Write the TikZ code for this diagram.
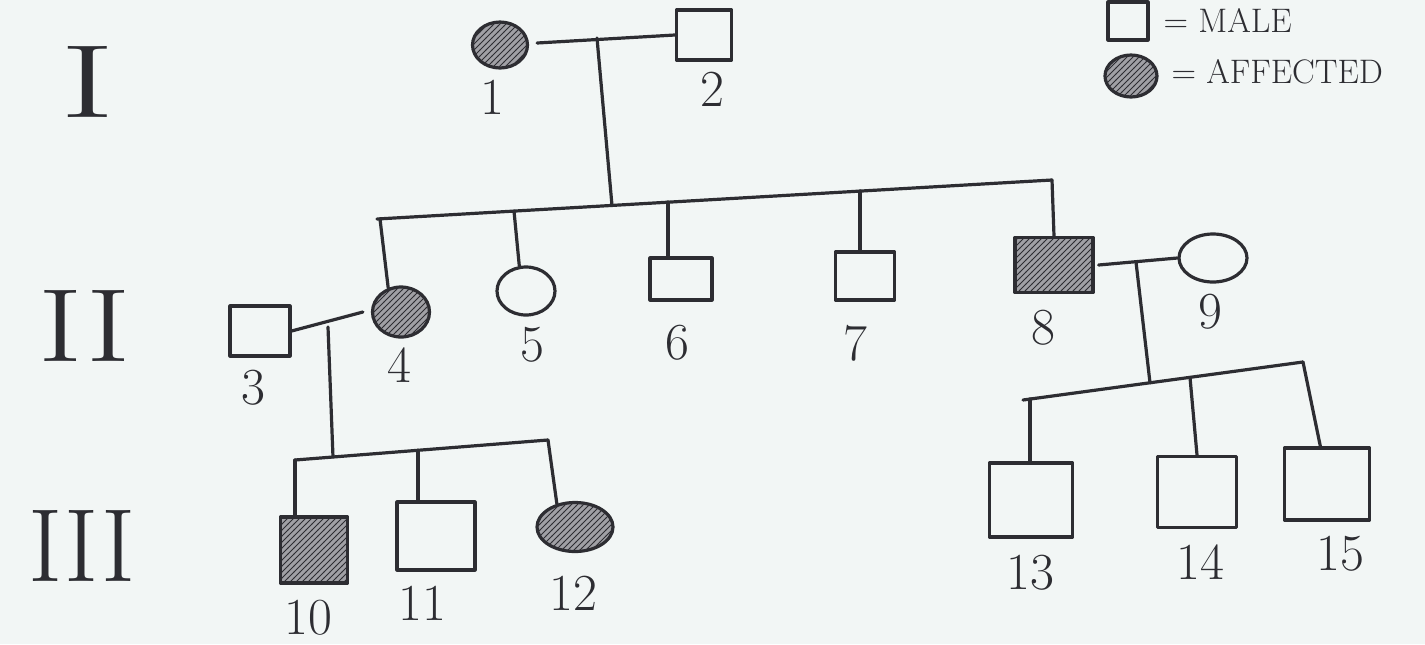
\documentclass[tikz,border=0pt]{standalone}
\usepackage{fontspec}
\usetikzlibrary{shapes.geometric,patterns,calc}
\definecolor{paper}{RGB}{242,246,245}
\definecolor{ink}{RGB}{45,45,50}
\definecolor{hatchbg}{RGB}{160,160,165}
\begin{document}
\begin{tikzpicture}[x=0.5pt,y=-0.5pt,
  line width=1.6pt, draw=ink, line cap=round, line join=round,
  male/.style={draw=ink, rectangle, inner sep=0pt, minimum width=#1},
  female/.style={draw=ink, ellipse, inner sep=0pt, minimum width=#1},
  affected/.style={fill=hatchbg, postaction={pattern=north east lines, pattern color=ink}},
  num/.style={text=ink, font=\fontsize{26}{28}\selectfont, inner sep=0pt},
  gen/.style={text=ink, font=\fontsize{52}{56}\selectfont, inner sep=0pt},
  legtext/.style={text=ink, font=\fontsize{17}{20}\selectfont, inner sep=0pt, anchor=west},
  conn/.style={draw=ink, line width=1.6pt}
]
\fill[paper] (0,0) rectangle (1425,644);
\useasboundingbox (0,0) rectangle (1425,644);

% generation labels
\node[gen, xscale=1.6] (g1) at (88,82) {I};
\node[gen, xscale=1.3] (g2) at (85,326) {II};
\node[gen] (g3) at (82,546) {III};

% legend
\node[male=20pt, minimum height=19pt] (lm) at (1128,21) {};
\node[legtext] (lmt) at (1162,20) {= MALE};
\node[female=26pt, minimum height=21pt, affected] (la) at (1131,76) {};
\node[legtext] (lat) at (1170,72) {= AFFECTED};

% generation I
\node[female=27.5pt, minimum height=23pt, affected] (n1) at (500,45) {};
\node[male=27.5pt, minimum height=25pt] (n2) at (704,35) {};
\node[num] (l1) at (492,97) {1};
\node[num] (l2) at (712,89) {2};

% generation II
\node[male=30pt, minimum height=25pt] (n3) at (260,331) {};
\node[female=28.5pt, minimum height=25pt, affected] (n4) at (401,312) {};
\node[female=29pt, minimum height=24pt] (n5) at (526,291) {};
\node[male=31pt, minimum height=21pt] (n6) at (681,279) {};
\node[male=29.5pt, minimum height=24pt] (n7) at (865,276) {};
\node[male=39pt, minimum height=27.5pt, affected] (n8) at (1054,265) {};
\node[female=34pt, minimum height=24pt] (n9) at (1213,258) {};
\node[num] (l3) at (253,388) {3};
\node[num] (l4) at (399,365) {4};
\node[num] (l5) at (532,345) {5};
\node[num] (l6) at (677,343) {6};
\node[num] (l7) at (855,343) {7};
\node[num] (l8) at (1043,328) {8};
\node[num] (l9) at (1210,312) {9};

% generation III
\node[male=33.5pt, minimum height=33pt, affected] (n10) at (314,550) {};
\node[male=39pt, minimum height=34pt] (n11) at (436,536) {};
\node[female=38pt, minimum height=24.5pt, affected] (n12) at (575,527) {};
\node[male=41.5pt, minimum height=37pt] (n13) at (1031,500) {};
\node[male=39.5pt, minimum height=35.5pt] (n14) at (1197,492) {};
\node[male=42.5pt, minimum height=36pt] (n15) at (1327,484) {};
\node[num] (l10) at (308,618) {10};
\node[num] (l11) at (422,603) {11};
\node[num] (l12) at (573,593) {12};
\node[num] (l13) at (1030,573) {13};
\node[num] (l14) at (1200,562) {14};
\node[num] (l15) at (1340,554) {15};

% coordinates on marriage and sibship lines
\coordinate (m12) at (597,38);
\coordinate (s2L) at (377,219);
\coordinate (s2R) at (1052,180);
\coordinate (c1) at (612,205.5);
\coordinate (c4) at (380,219);
\coordinate (c5) at (514,211);
\coordinate (c6) at (668,202);
\coordinate (c7) at (860,191);
\coordinate (m34) at (328,327);
\coordinate (s3L) at (295,460);
\coordinate (s3R) at (548,440);
\coordinate (c34) at (333,457);
\coordinate (c11) at (418,450.3);
\coordinate (m89) at (1136,262);
\coordinate (s3rL) at (1023,400);
\coordinate (s3rR) at (1303,362);
\coordinate (c89) at (1150,382.8);
\coordinate (c13) at (1030,399);
\coordinate (c14) at (1190,377.4);

% generation I connections
\draw[conn] ($(n1.east)+(8,-2)$) -- (n2.west);
\draw[conn] (m12) -- (c1);
\draw[conn] (s2L) -- (s2R);
\draw[conn] (c4) -- (n4.118);
\draw[conn] (c5) -- (n5.105);
\draw[conn] (c6) -- (c6 |- n6.north);
\draw[conn] (c7) -- (c7 |- n7.north);
\draw[conn] (s2R) -- (n8.north);

% 3 x 4
\draw[conn] (n3.east) -- ($(n4.west)+(-8,0)$);
\draw[conn] (m34) -- (c34);
\draw[conn] (s3L) -- (s3R);
\draw[conn] (s3L) -- (s3L |- n10.north);
\draw[conn] (c11) -- (c11 |- n11.north);
\draw[conn] (s3R) -- (n12.128);

% 8 x 9
\draw[conn] ($(n8.east)+(4,0)$) -- (n9.west);
\draw[conn] (m89) -- (c89);
\draw[conn] (s3rL) -- (s3rR);
\draw[conn] (c13) -- (c13 |- n13.north);
\draw[conn] (c14) -- (n14.north);
\draw[conn] (s3rR) -- (n15.100);
\end{tikzpicture}
\end{document}
